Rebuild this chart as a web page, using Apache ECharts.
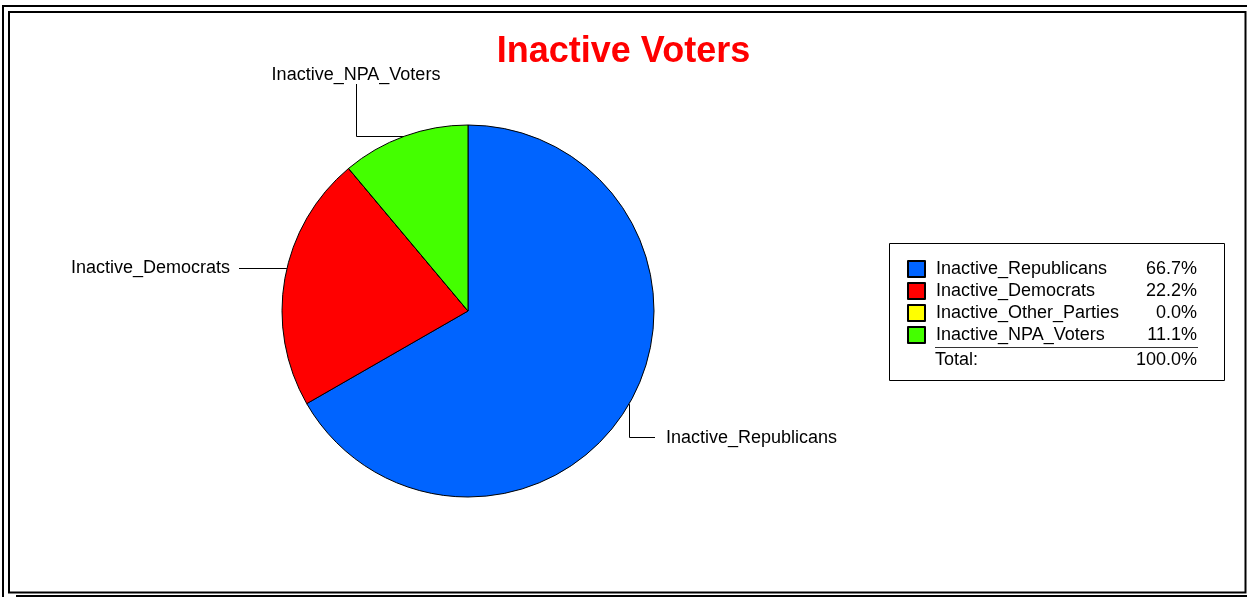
<!DOCTYPE html>
<html>
<head>
<meta charset="utf-8">
<script src="https://cdn.jsdelivr.net/npm/echarts@6/dist/echarts.min.js"></script>
<style>
html,body{margin:0;padding:0;background:#fff;}
#c{width:1247px;height:597px;}
</style>
</head>
<body>
<div id="c"></div>
<script>
const titleText = 'Inactive Voters';
const categories = ['Inactive_Republicans', 'Inactive_Democrats', 'Inactive_Other_Parties', 'Inactive_NPA_Voters'];
const values = [66.7, 22.2, 0.0, 11.1];
const colors = ['#0064FF', '#FF0000', '#FFFF00', '#44FF00'];
const totalLabel = 'Total:';

const FONT = '"Liberation Sans", Arial, sans-serif';
const CX = 468, CY = 311, R = 186;
const total = values.reduce((a, b) => a + b, 0);
const pct = v => (v / total * 100).toFixed(1) + '%';

const chart = echarts.init(document.getElementById('c'), null, {renderer: 'canvas'});

function edgeAt(deg) { // degrees clockwise from top
  const a = deg * Math.PI / 180;
  return [CX + R * Math.sin(a), CY - R * Math.cos(a)];
}

const mids = [];
let acc = 0;
values.forEach(v => { const s = v / total * 360; mids.push(acc + s / 2); acc += s; });

const option = {
  backgroundColor: '#fff',
  animation: false,
  title: {
    text: titleText,
    left: 'center',
    top: 29,
    textStyle: {color: '#FF0000', fontSize: 36, fontWeight: 'bold', fontFamily: FONT}
  },
  legend: {
    orient: 'vertical',
    left: 902,
    top: 255,
    itemWidth: 17,
    itemHeight: 16,
    itemGap: 4,
    icon: 'rect',
    selectedMode: false,
    data: categories,
    formatter: function (name) {
      const i = categories.indexOf(name);
      return '{s|}{n|' + name + '}{v|' + pct(values[i]) + '}';
    },
    textStyle: {
      fontFamily: FONT, fontSize: 18, color: '#000',
      rich: {
        s: {width: 6, fontSize: 18, fontFamily: FONT, lineHeight: 16},
        n: {width: 200, fontSize: 18, fontFamily: FONT, color: '#000', lineHeight: 16},
        v: {width: 61, align: 'right', fontSize: 18, fontFamily: FONT, color: '#000', lineHeight: 16}
      }
    }
  },
  graphic: [
    {type: 'polyline', shape: {points: [[3, 597], [3, 6], [1247, 6]]}, style: {stroke: '#000', lineWidth: 2, fill: null}, silent: true},
    {type: 'line', shape: {x1: 16, y1: 596, x2: 1247, y2: 596}, style: {stroke: '#000', lineWidth: 2}, silent: true},
    {type: 'rect', shape: {x: 9, y: 12, width: 1236.5, height: 580.5}, style: {stroke: '#000', lineWidth: 2, fill: null}, silent: true},
    {type: 'rect', shape: {x: 889.5, y: 243.5, width: 335, height: 137}, style: {stroke: '#000', lineWidth: 1, fill: null}, silent: true},
    {type: 'line', shape: {x1: 935, y1: 347.5, x2: 1198, y2: 347.5}, style: {stroke: '#333', lineWidth: 1}, silent: true},
    {type: 'text', left: 935, top: 351, style: {text: totalLabel, font: '18px ' + FONT, fill: '#000'}, silent: true},
    {type: 'text', right: 1247 - 1197, top: 351, style: {text: pct(total), font: '18px ' + FONT, fill: '#000', textAlign: 'right'}, silent: true}
  ],
  series: [{
    type: 'pie',
    center: [CX, CY],
    radius: R,
    startAngle: 90,
    clockwise: true,
    avoidLabelOverlap: false,
    emphasis: {disabled: true},
    itemStyle: {borderColor: '#000', borderWidth: 1},
    label: {show: true, position: 'outside', fontFamily: FONT, fontSize: 18, color: '#000'},
    labelLine: {show: true, lineStyle: {color: '#000', width: 1}},
    data: categories.map((c, i) => ({
      name: c,
      value: values[i],
      itemStyle: {color: colors[i]},
      label: {show: values[i] > 0, formatter: '{b}'},
      labelLine: {show: values[i] > 0}
    })),
    labelLayout: function (p) {
      const i = p.dataIndex;
      const e = edgeAt(mids[i]);
      if (i === 0) {
        const x = Math.round(e[0]) + 0.5;
        return {x: 666, y: 438, align: 'left', verticalAlign: 'middle',
          labelLinePoints: [[x, e[1]], [x, 437.5], [655, 437.5]]};
      }
      if (i === 1) {
        const y = 268.5;
        const ex = CX - Math.sqrt(R * R - (y - CY) * (y - CY));
        return {x: 230, y: 268, align: 'right', verticalAlign: 'middle',
          labelLinePoints: [[ex, y], [239, y], [239, y]]};
      }
      if (i === 3) {
        const y = Math.round(e[1]) + 0.5;
        return {x: 356, y: 75, align: 'center', verticalAlign: 'middle',
          labelLinePoints: [[e[0], y], [356.5, y], [356.5, 84]]};
      }
      return {};
    }
  }]
};
chart.setOption(option);
</script>
</body>
</html>
